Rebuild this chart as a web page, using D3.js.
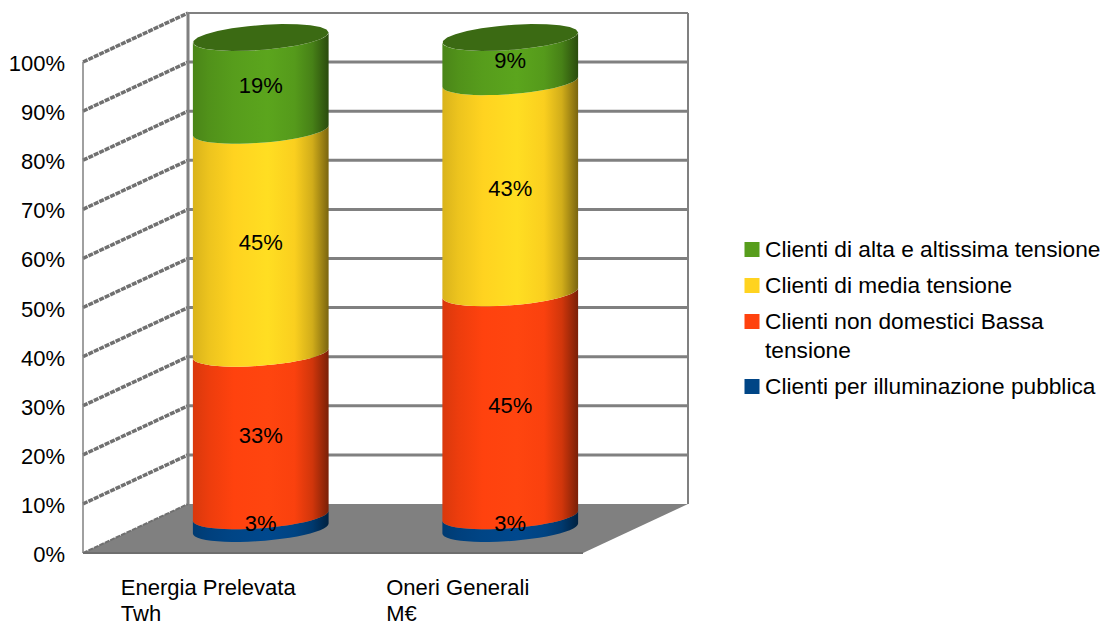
<!DOCTYPE html>
<html>
<head>
<meta charset="utf-8">
<script src="https://cdn.jsdelivr.net/npm/d3@7"></script>
<style>
  html, body { margin: 0; background: #fff; }
  text { font-family: "Liberation Sans", Arial, sans-serif; fill: #000; }
</style>
</head>
<body>
<div id="chart"></div>
<script>
// data (bottom to top of the stack)
var categories = ["Energia Prelevata|Twh", "Oneri Generali|M€"];
var seriesNames = ["Clienti per illuminazione pubblica", "Clienti non domestici Bassa|tensione", "Clienti di media tensione", "Clienti di alta e altissima tensione"];
var seriesColors = ["#004586", "#ff420e", "#ffd320", "#579d1c"];
var energia = [2.6, 33.1, 45.4, 18.9];
var oneri = [2.6, 45.4, 43.0, 9.0];
var labelsEnergia = ["3%", "33%", "45%", "19%"];
var labelsOneri = ["3%", "45%", "43%", "9%"];
var tickValues = [0, 10, 20, 30, 40, 50, 60, 70, 80, 90, 100];

var svgWidth = 1108, svgHeight = 626;
var plot = { left: 83, right: 583, top: 62, bottom: 553 };
var depth = { x: 105, y: 49 };
var grey = "#808080";

var svg = d3.select("#chart").append("svg")
    .attr("width", svgWidth)
    .attr("height", svgHeight)
    .style("display", "block");

var yScale = d3.scaleLinear().domain([0, 100]).range([plot.bottom, plot.top]);
var xScale = d3.scaleBand().domain(categories).range([plot.left, plot.right])
    .paddingInner(0.456).paddingOuter(0.23);

// gradients for the cylinder sides
var defs = svg.append("defs");
seriesColors.forEach(function(c, i) {
    var base = d3.rgb(c);
    var g = defs.append("linearGradient").attr("id", "side" + i);
    [[0, 0.85], [0.12, 0.93], [0.3, 1], [0.55, 1.05], [0.75, 0.98], [0.88, 0.82], [1, 0.48]].forEach(function(s) {
        g.append("stop")
            .attr("offset", s[0])
            .attr("stop-color", d3.rgb(Math.min(255, base.r * s[1]), Math.min(255, base.g * s[1]), Math.min(255, base.b * s[1])));
    });
});

// back wall + gridlines
var walls = svg.append("g");
walls.append("polygon")
    .attr("points", [[plot.left + depth.x, plot.bottom - depth.y], [plot.right + depth.x, plot.bottom - depth.y], [plot.right, plot.bottom], [plot.left, plot.bottom]].join(" "))
    .attr("fill", grey);

walls.selectAll(".gridBack")
    .data(tickValues.slice(1))
    .enter().append("line")
    .attr("x1", plot.left + depth.x)
    .attr("x2", plot.right + depth.x)
    .attr("y1", d => yScale(d) - depth.y)
    .attr("y2", d => yScale(d) - depth.y)
    .attr("stroke", grey)
    .attr("stroke-width", d => d == 100 ? 2 : 3);

// side wall lines, the jagged look of the original
walls.selectAll(".gridSide")
    .data(tickValues)
    .enter().append("line")
    .attr("x1", plot.left)
    .attr("x2", plot.left + depth.x)
    .attr("y1", d => yScale(d))
    .attr("y2", d => yScale(d) - depth.y)
    .attr("stroke", "#707070")
    .attr("stroke-width", d => d == 0 ? 2 : 3.5)
    .attr("stroke-dasharray", "5 1");

walls.append("line")
    .attr("x1", plot.left).attr("x2", plot.left)
    .attr("y1", yScale(100)).attr("y2", yScale(0))
    .attr("stroke", grey).attr("stroke-width", 1.5);
walls.append("line")
    .attr("x1", plot.left + depth.x).attr("x2", plot.left + depth.x)
    .attr("y1", yScale(100) - depth.y).attr("y2", yScale(0) - depth.y)
    .attr("stroke", grey).attr("stroke-width", 3);
walls.append("line")
    .attr("x1", plot.right + depth.x).attr("x2", plot.right + depth.x)
    .attr("y1", yScale(100) - depth.y).attr("y2", yScale(0) - depth.y)
    .attr("stroke", grey).attr("stroke-width", 2);
walls.append("line")
    .attr("x1", plot.left).attr("x2", plot.right)
    .attr("y1", yScale(0)).attr("y2", yScale(0))
    .attr("stroke", "#6e6e6e").attr("stroke-width", 2);

// y axis, labels only
var yAxis = d3.axisLeft(yScale).tickValues(tickValues).tickSize(0).tickFormat(d => d + "%");
var axisG = svg.append("g")
    .attr("transform", "translate(" + (plot.left - 18) + ",1.5)")
    .call(yAxis);
axisG.select(".domain").remove();
axisG.selectAll("text").attr("font-size", 22).attr("font-family", null).attr("x", 0);

// cylinders
var arcLine = d3.line().x(d => d[0]).y(d => d[1]);
var a = xScale.bandwidth() / 2;
var b = 12.5;
var shear = -10 / xScale.bandwidth();

function ellipsePoints(cx, cy, t0, t1) {
    return d3.range(0, 1.0001, 0.04).map(function(k) {
        var t = t0 + (t1 - t0) * k;
        return [cx + a * Math.cos(t), cy + b * Math.sin(t) + shear * a * Math.cos(t)];
    });
}

function drawCylinder(category, values, labels) {
    var cx = xScale(category) + a + depth.x / 2;
    var g = svg.append("g");
    var stacked = d3.cumsum(values);
    values.forEach(function(v, i) {
        var y0 = yScale(stacked[i] - v) - depth.y / 2;
        var y1 = yScale(stacked[i]) - depth.y / 2;
        var lower = ellipsePoints(cx, y0, Math.PI, 0);
        var upper = ellipsePoints(cx, y1, 0, Math.PI);
        g.append("path")
            .attr("d", arcLine(lower.concat(upper)) + "Z")
            .attr("fill", "url(#side" + i + ")");
    });
    // top cap
    var topColor = d3.rgb(seriesColors[seriesColors.length - 1]).darker(1.1);
    g.append("path")
        .attr("d", arcLine(ellipsePoints(cx, yScale(stacked[stacked.length - 1]) - depth.y / 2, 0, 2 * Math.PI)) + "Z")
        .attr("fill", topColor);
    // value labels
    values.forEach(function(v, i) {
        g.append("text")
            .attr("x", cx)
            .attr("y", yScale(stacked[i] - v / 2) - depth.y / 2 + 1)
            .attr("dy", "0.35em")
            .attr("text-anchor", "middle")
            .attr("font-size", 22)
            .text(labels[i]);
    });
}
drawCylinder(categories[0], energia, labelsEnergia);
drawCylinder(categories[1], oneri, labelsOneri);

// category labels, block centred under the front of each band
categories.forEach(function(c) {
    var t = svg.append("text")
        .attr("y", 595)
        .attr("font-size", 22);
    var parts = c.split("|");
    var spans = parts.map(function(part, i) {
        return t.append("tspan").attr("dy", i ? 26 : 0).text(part);
    });
    var w = d3.max(spans, s => s.node().getComputedTextLength());
    var x = xScale(c) + a - w / 2;
    spans.forEach(s => s.attr("x", x));
});

// legend, top entry first
var legendY = [257, 293, 329, 394];
var legend = svg.append("g");
d3.range(seriesNames.length - 1, -1, -1).forEach(function(i, row) {
    legend.append("rect")
        .attr("x", 744.5).attr("y", legendY[row] - 15)
        .attr("width", 15).attr("height", 15)
        .attr("fill", seriesColors[i]);
    var t = legend.append("text")
        .attr("y", legendY[row])
        .attr("font-size", 22.7);
    seriesNames[i].split("|").forEach(function(part, k) {
        t.append("tspan").attr("x", 765).attr("dy", k ? 29 : 0).text(part);
    });
});
</script>
</body>
</html>
